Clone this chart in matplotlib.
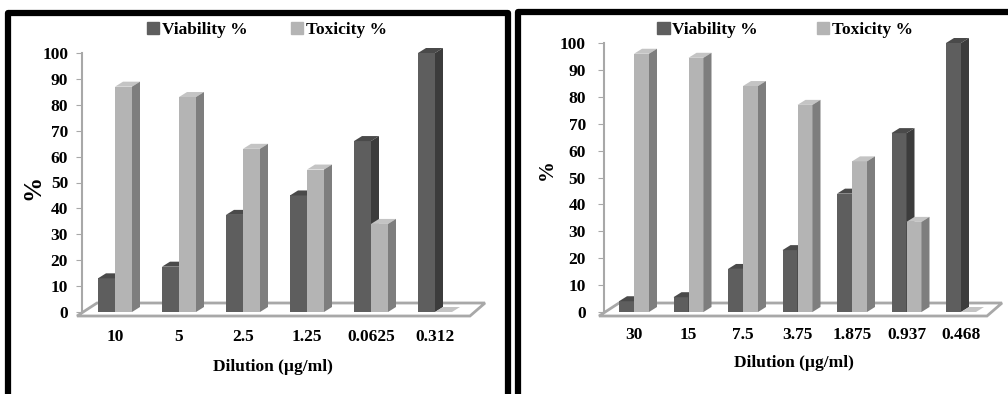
import matplotlib
matplotlib.use('Agg')
import matplotlib.pyplot as plt
import matplotlib.patches as pat

plt.rcParams['font.family'] = ['Liberation Serif', 'DejaVu Serif']
plt.rcParams['font.weight'] = 'bold'

W, H = 1008, 394

# panel A
dilA = ['10', '5', '2.5', '1.25', '0.0625', '0.312']
viabA = [13, 17.5, 37.5, 45, 66, 100]
toxA = [87, 83, 63, 55, 34, 0]

# panel B
dilB = ['30', '15', '7.5', '3.75', '1.875', '0.937', '0.468']
viabB = [4, 5.5, 16, 23, 44, 66.5, 100]
toxB = [96, 94.5, 84, 77, 56, 33.5, 0]

VIAB = ('#5e5e5e', '#4a4a4a', '#3c3c3c')   # front, top, side
TOX = ('#b4b4b4', '#c4c4c4', '#7e7e7e')
FLOOR = '#a8a8a8'
FS = 12.5


def fx(px):
    return px / W


def fy(py):
    return 1 - py / H


def bar3d(ax, x0, w, v, cols, dx, dy, z):
    front, top, side = cols
    ax.bar(x0, v, width=w, align='edge', color=front, zorder=z, linewidth=0)
    ax.add_patch(pat.Polygon([(x0, v), (x0 + w, v), (x0 + w + dx, v + dy), (x0 + dx, v + dy)],
                             closed=True, facecolor=top, edgecolor='none', zorder=z, clip_on=False))
    ax.add_patch(pat.Polygon([(x0 + w, 0), (x0 + w, v), (x0 + w + dx, v + dy), (x0 + w + dx, dy)],
                             closed=True, facecolor=side, edgecolor='none', zorder=z, clip_on=False))


def panel(fig, cats, viab, tox, left, right, top, bottom, first, step, bw, ypad,
          legx, colsp, ylabx, ylaby, ylabsize, xlabx, xlaby, ticky):
    ax = fig.add_axes([fx(left), fy(bottom), fx(right - left), (bottom - top) / H])
    x_lo = (left - first) / step
    x_hi = (right - first) / step
    ax.set_xlim(x_lo, x_hi)
    ax.set_ylim(0, 100)
    ppy = (bottom - top) / 100.0
    dx, dy = 8 / step, 5 / ppy
    w = bw / step

    # floor of the 3d box
    floor = [(x_lo - 5 / step, -4 / ppy), (x_hi, -4 / ppy),
             (x_hi + 15 / step, 9 / ppy), (x_lo + 15 / step, 9 / ppy)]
    ax.add_patch(pat.Polygon(floor, closed=True, facecolor='white', edgecolor=FLOOR,
                             linewidth=2, zorder=1, clip_on=False))

    z = 2
    for i in range(len(cats)):
        bar3d(ax, i - w, w, viab[i], VIAB, dx, dy, z)
        bar3d(ax, i, w, tox[i], TOX, dx, dy, z + 1)
        z += 2

    for s in ['top', 'right', 'bottom']:
        ax.spines[s].set_visible(False)
    ax.spines['left'].set_color(FLOOR)
    ax.spines['left'].set_linewidth(1.5)
    ax.set_yticks(range(0, 101, 10))
    ax.tick_params(axis='y', length=4, color=FLOOR, pad=ypad, labelsize=FS)
    ax.set_xticks(range(len(cats)))
    ax.set_xticklabels([])
    ax.tick_params(axis='x', length=0)
    for i, c in enumerate(cats):
        fig.text(fx(first + i * step), fy(ticky), c, ha='center', va='center', fontsize=FS)

    fig.text(fx(xlabx), fy(xlaby), 'Dilution (µg/ml)', ha='center', va='center', fontsize=FS)
    fig.text(fx(ylabx), fy(ylaby), '%', ha='center', va='center', rotation=90, fontsize=ylabsize)

    handles = [pat.Patch(color=VIAB[0], label='Viability %'),
               pat.Patch(color=TOX[0], label='Toxicity %')]
    fig.legend(handles=handles, loc='center', bbox_to_anchor=(fx(legx), fy(30)), ncol=2,
               frameon=False, fontsize=FS, handlelength=0.7, handleheight=0.7,
               handletextpad=0.15, columnspacing=colsp)
    return ax


fig = plt.figure(figsize=(W / 100, H / 100), dpi=100)

panel(fig, dilA, viabA, toxA, left=82, right=470, top=53, bottom=312, first=115, step=64,
      bw=17, ypad=6, legx=267, colsp=2.5, ylabx=33, ylaby=187, ylabsize=18,
      xlabx=273, xlaby=367, ticky=337)
panel(fig, dilB, viabB, toxB, left=604, right=987, top=43, bottom=312, first=634, step=54.5,
      bw=15, ypad=9, legx=785, colsp=3.4, ylabx=547, ylaby=170, ylabsize=15,
      xlabx=794, xlaby=363, ticky=335)

# black frames around both panels
for x0, y0, x1 in [(8, 12.5, 508), (518, 11.5, 1030)]:
    fig.add_artist(pat.Rectangle((fx(x0), fy(430)), fx(x1 - x0), (430 - y0) / H,
                                 transform=fig.transFigure, fill=False, edgecolor='black',
                                 linewidth=4.5, joinstyle='round', clip_on=False))

fig.savefig('out.png', dpi=100)
